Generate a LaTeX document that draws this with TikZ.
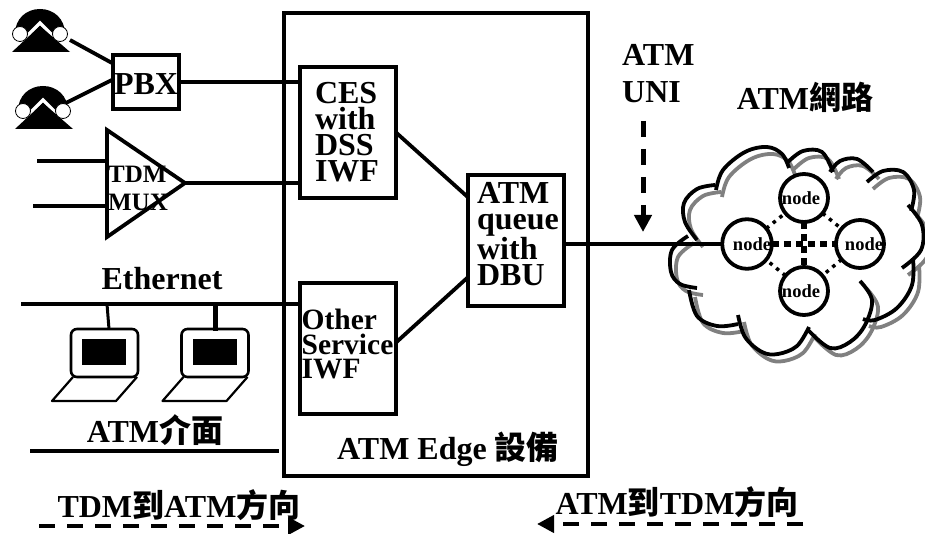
\documentclass[tikz,border=0pt]{standalone}
\usepackage{fontspec}
\setmainfont{Liberation Serif}
\newfontfamily\cjk{Noto Sans CJK TC}
\usepackage{tikz}
\usetikzlibrary{
	arrows.meta,
	calc,
	positioning
}
\newcommand{\zh}[1]{{\cjk\bfseries #1}}
\tikzset{
	box/.style={draw, line width=3.8pt, outer sep=0pt, inner sep=0pt},
	wire/.style={line width=3.8pt},
	thinwire/.style={line width=3pt},
	lbl/.style={inner sep=0pt, font=\fontsize{32}{32}\selectfont\bfseries},
	boxtext/.style={inner sep=0pt, align=left, font=\fontsize{32}{26}\selectfont\bfseries},
	othertext/.style={inner sep=0pt, align=left, font=\fontsize{29.5}{24.5}\selectfont\bfseries},
	muxtext/.style={inner sep=0pt, align=left, font=\fontsize{25}{28}\selectfont\bfseries},
	atmnode/.style={circle, draw, line width=3.8pt, minimum size=48pt, inner sep=0pt, outer sep=0pt, font=\fontsize{18.5}{18.5}\selectfont\bfseries},
	direction/.style={line width=4pt, dash pattern=on 16pt off 12pt, -{Triangle[length=17pt,width=17pt]}},
	thicklink/.style={line width=6pt, dash pattern=on 7pt off 5pt},
	thinlink/.style={line width=3.5pt, dash pattern=on 3.5pt off 5pt},
	phone/.pic={
		\fill (-25,4) .. controls (-25,-11) and (-14,-21) .. (0,-21) .. controls (14,-21) and (25,-11) .. (25,4) -- cycle;
		\draw[white, line width=3.5pt] (-13,6) -- (0,-7) -- (13,6);
		\fill (-28,22) -- (0,-4) -- (30,22) -- cycle;
		\draw[fill=white, line width=.8pt] (-20,4) circle (7.5);
		\draw[fill=white, line width=.8pt] (20,4) circle (7.5);
	},
	laptop/.pic={
		\draw[line width=2.6pt, rounded corners=6pt] (0,0) rectangle (67,48);
		\fill (11,10) rectangle (55,36);
		\draw[line width=2.2pt, line join=round] (2,48) -- (-19,72) -- (45,72) -- (66,48);
	},
	cloudarcs/.pic={
		\draw[line width=3.8pt] plot[smooth, tension=.6] coordinates {(697,240) (685,222) (684,203) (697,189) (715,185)};
		\draw[line width=3.8pt] plot[smooth, tension=.6] coordinates {(716,190) (723,170) (745,152) (767,147) (782,154) (789,168)};
		\draw[line width=3.8pt] plot[smooth, tension=.6] coordinates {(788,162) (803,151) (822,152) (833,172)};
		\draw[line width=3.8pt] plot[smooth, tension=.6] coordinates {(830,172) (840,161) (857,159) (873,172)};
		\draw[line width=3.8pt] plot[smooth, tension=.6] coordinates {(867,182) (883,171) (903,172) (914,190) (911,211)};
		\draw[line width=3.8pt] plot[smooth, tension=.6] coordinates {(908,205) (922,225) (921,250) (902,268)};
		\draw[line width=3.8pt] plot[smooth, tension=.6] coordinates {(913,258) (912,285) (897,308) (875,320) (863,319)};
		\draw[line width=3.8pt] plot[smooth, tension=.6] coordinates {(860,281) (872,300) (865,325) (850,342) (830,348) (808,330)};
		\draw[line width=3.8pt] plot[smooth, tension=.6] coordinates {(738,315) (745,337) (762,352) (778,354) (797,346) (809,327)};
		\draw[line width=3.8pt] plot[smooth, tension=.6] coordinates {(689,290) (697,316) (717,326) (738,324)};
		\draw[line width=3.8pt] plot[smooth, tension=.6] coordinates {(688,236) (672,250) (671,272) (680,284) (697,288)};
	}
}

\begin{document}
\begin{tikzpicture}[x=1pt, y=-1pt]
	\useasboundingbox (0,0) rectangle (925,534);

	% edge box and the blocks inside
	\node[box, minimum width=304pt, minimum height=463pt] (edge) at (436,244.5) {};
	\node[box, minimum width=96pt, minimum height=131pt] (ces) at (348,132.5) {};
	\node[box, minimum width=96pt, minimum height=131pt] (other) at (348,348.5) {};
	\node[box, minimum width=96pt, minimum height=131pt] (queue) at (516,240.5) {};
	\node[box, minimum width=66pt, minimum height=54pt] (pbx) at (146,82) {};

	\node[boxtext] (cestext) at (347,132) {CES\\with\\DSS\\IWF};
	\node[othertext] (othertextblock) at (347.5,344) {Other\\Service\\IWF};
	\node[boxtext] (queuetext) at (518,234) {ATM\\queue\\with\\DBU};
	\node[lbl] (pbxtext) at (146,84) {PBX};
	\node[lbl] (edgetext) at (448,449) {ATM Edge \zh{設備}};

	\draw[wire] (ces.east) -- ($(queue.north west)!0.17!(queue.south west)$);
	\draw[wire] ($(other.east)+(0,-6)$) -- ($(queue.north west)!0.78!(queue.south west)$);

	% telephones
	\pic at (40,30) {phone};
	\pic at (43,107) {phone};
	\coordinate (phoneaend) at (70,40);
	\coordinate (phonebend) at (66,103);
	\coordinate (pbxa) at (112,63);
	\coordinate (pbxb) at (112,80);
	\draw[wire] (phoneaend) -- (pbxa);
	\draw[wire] (phonebend) -- (pbxb);
	\draw[wire] (pbx.east) -- (ces.west |- pbx.east);

	% multiplexer
	\coordinate (muxtop) at (107,130);
	\coordinate (muxbot) at (107,237);
	\coordinate (muxtip) at (185,183);
	\coordinate (muxina) at (37,161);
	\coordinate (muxinb) at (33,206);
	\draw[wire, line join=miter] (muxtop) -- (muxtip) -- (muxbot) -- cycle;
	\draw[wire] (muxina) -- (muxtop |- muxina);
	\draw[wire] (muxinb) -- (muxtop |- muxinb);
	\draw[wire] (muxtip) -- (ces.west |- muxtip);
	\node[muxtext] (muxtext) at (138,188) {TDM\\MUX};

	% ethernet segment
	\node[lbl] (ethernet) at (162,279) {Ethernet};
	\coordinate (ethstart) at (21,304);
	\draw[wire] (ethstart) -- (other.west |- ethstart);
	\pic at (71,329) {laptop};
	\pic at (181.5,329) {laptop};
	\coordinate (ethtapa) at (107,304);
	\coordinate (lapa) at (109,329);
	\coordinate (ethtapb) at (215,304);
	\coordinate (lapb) at (215,331);
	\draw[thinwire] (ethtapa) -- (lapa);
	\draw[line width=5pt] (ethtapb) -- (lapb);

	\node[lbl] (atmif) at (155,430) {ATM\zh{介面}};
	\coordinate (atmifstart) at (30,451);
	\coordinate (atmifend) at (279,451);
	\draw[wire] (atmifstart) -- (atmifend);

	% direction labels
	\node[lbl] (todirtext) at (179,505) {TDM\zh{到}ATM\zh{方向}};
	\node[lbl] (fromdirtext) at (677,502) {ATM\zh{到}TDM\zh{方向}};
	\coordinate (todira) at (39,526);
	\coordinate (todirb) at (305,526);
	\coordinate (fromdira) at (803,524);
	\coordinate (fromdirb) at (537,524);
	\draw[direction] (todira) -- (todirb);
	\draw[direction] (fromdira) -- (fromdirb);

	% UNI
	\node[lbl, anchor=west] (unia) at (622,55) {ATM};
	\node[lbl, anchor=west] (unib) at (622,92) {UNI};
	\node[lbl] (atmnet) at (805,97) {ATM\zh{網路}};
	\coordinate (unistart) at (643,121);
	\coordinate (unitip) at (643,232);
	\draw[direction, line width=5pt] (unistart) -- (unitip);

	% cloud
	\pic[gray] at (6,7) {cloudarcs};
	\pic {cloudarcs};
	\node[atmnode] (nleft) at (747,244) {\hspace*{10pt}node};
	\node[atmnode] (ntop) at (804,198) {node\hspace*{6pt}};
	\node[atmnode] (nright) at (860,244) {\hspace*{8pt}node};
	\node[atmnode] (nbot) at (804,291) {node\hspace*{6pt}};
	\draw[thicklink] (nleft) -- (nright);
	\draw[thicklink] (ntop) -- (nbot);
	\draw[thinlink] (nleft) -- (ntop);
	\draw[thinlink] (ntop) -- (nright);
	\draw[thinlink] (nright) -- (nbot);
	\draw[thinlink] (nbot) -- (nleft);
	\draw[wire] (queue.east |- nleft) -- (nleft);
\end{tikzpicture}
\end{document}
